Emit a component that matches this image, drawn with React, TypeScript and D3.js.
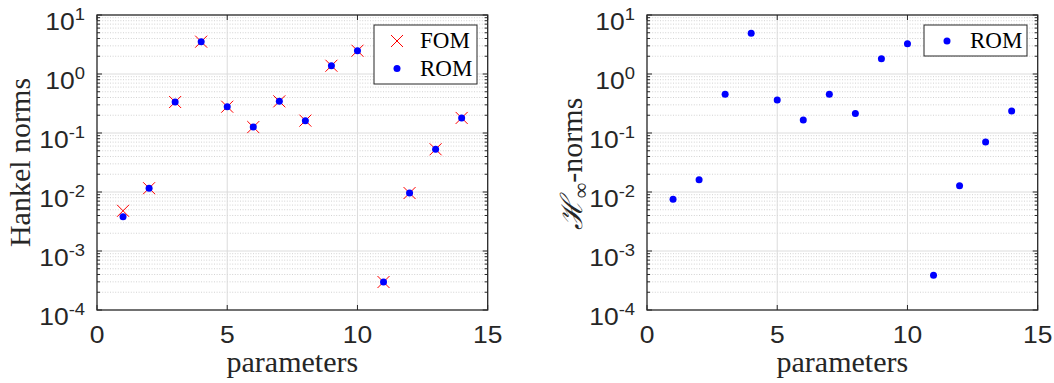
import React from "react";
import * as d3 from "d3";

const params = [1, 2, 3, 4, 5, 6, 7, 8, 9, 10, 11, 12, 13, 14];
const hankelFOM = [0.0048, 0.0116, 0.335, 3.53, 0.279, 0.126, 0.344, 0.162, 1.38, 2.48, 0.000298, 0.0096, 0.053, 0.18];
const hankelROM = [0.0038, 0.0116, 0.335, 3.53, 0.279, 0.126, 0.344, 0.162, 1.38, 2.48, 0.000298, 0.0096, 0.053, 0.18];
const hinfROM = [0.0075, 0.0162, 0.453, 4.89, 0.362, 0.166, 0.453, 0.215, 1.82, 3.26, 0.000387, 0.0128, 0.0703, 0.236];
const xTicks = [0, 5, 10, 15];
const yDecades = [-4, -3, -2, -1, 0, 1];

const AX = "#262626";
const SANS = "'Liberation Sans', Arial, sans-serif";
const SERIF = "'Liberation Serif', 'Times New Roman', serif";
const SX = 1.15;

function Panel({ x0, x1, y0, y1, yLabel, series, legend }) {
  const x = d3.scaleLinear().domain([0, 15]).range([x0, x1]);
  const y = d3.scaleLog().domain([1e-4, 1e1]).range([y1, y0]);
  const minors = [];
  for (let d = -4; d < 1; d++) for (let k = 2; k <= 9; k++) minors.push(k * Math.pow(10, d));
  return (
    <g>
      {minors.map((v, i) => (
        <line key={"mg" + i} x1={x0} x2={x1} y1={y(v)} y2={y(v)} stroke="#d2d2d2" strokeWidth={1} strokeDasharray="1 1.6" />
      ))}
      {yDecades.slice(1, -1).map((d) => (
        <line key={"yg" + d} x1={x0} x2={x1} y1={y(Math.pow(10, d))} y2={y(Math.pow(10, d))} stroke="#dcdcdc" strokeWidth={1} />
      ))}
      {xTicks.slice(1, -1).map((t) => (
        <line key={"xg" + t} x1={x(t)} x2={x(t)} y1={y0} y2={y1} stroke="#dcdcdc" strokeWidth={1} />
      ))}
      {minors.map((v, i) => (
        <g key={"mt" + i}>
          <line x1={x0} x2={x0 + 3} y1={y(v)} y2={y(v)} stroke={AX} strokeWidth={1} />
          <line x1={x1} x2={x1 - 3} y1={y(v)} y2={y(v)} stroke={AX} strokeWidth={1} />
        </g>
      ))}
      {yDecades.map((d) => (
        <g key={"yt" + d}>
          <line x1={x0} x2={x0 + 5} y1={y(Math.pow(10, d))} y2={y(Math.pow(10, d))} stroke={AX} strokeWidth={1} />
          <line x1={x1} x2={x1 - 5} y1={y(Math.pow(10, d))} y2={y(Math.pow(10, d))} stroke={AX} strokeWidth={1} />
          <text transform={`translate(${x0 - 12},${y(Math.pow(10, d)) + 15}) scale(${SX},1)`} textAnchor="end" fontFamily={SANS} fontSize={23} fill={AX}>
            <tspan>10</tspan>
            <tspan dy={-10} fontSize={16}>{String(d)}</tspan>
          </text>
        </g>
      ))}
      {xTicks.map((t) => (
        <g key={"xt" + t}>
          <line x1={x(t)} x2={x(t)} y1={y1} y2={y1 - 5} stroke={AX} strokeWidth={1} />
          <line x1={x(t)} x2={x(t)} y1={y0} y2={y0 + 5} stroke={AX} strokeWidth={1} />
          <text transform={`translate(${x(t)},${y1 + 33}) scale(${SX},1)`} textAnchor="middle" fontFamily={SANS} fontSize={23} fill={AX}>{t}</text>
        </g>
      ))}
      <rect x={x0} y={y0} width={x1 - x0} height={y1 - y0} fill="none" stroke={AX} strokeWidth={1.3} />
      {series.map((s, si) =>
        s.values.map((v, i) =>
          s.type === "x" ? (
            <g key={si + "-" + i} stroke="#ff0000" strokeWidth={1}>
              <line x1={x(params[i]) - 6} x2={x(params[i]) + 6} y1={y(v) - 6} y2={y(v) + 6} />
              <line x1={x(params[i]) - 6} x2={x(params[i]) + 6} y1={y(v) + 6} y2={y(v) - 6} />
            </g>
          ) : (
            <circle key={si + "-" + i} cx={x(params[i])} cy={y(v)} r={3.5} fill="#0000ff" />
          )
        )
      )}
      <text x={(x0 + x1) / 2} y={y1 + 62} textAnchor="middle" fontFamily={SERIF} fontSize={30} fill={AX}>parameters</text>
      {yLabel}
      <g>
        <rect x={legend.x} y={legend.y} width={legend.w} height={legend.h} fill="#ffffff" stroke={AX} strokeWidth={1} />
        {legend.items.map((it, i) => {
          const cy = legend.y + 16 + i * 27.5;
          const mx = legend.x + 23;
          return (
            <g key={"lg" + i}>
              {it.type === "x" ? (
                <g stroke="#ff0000" strokeWidth={1}>
                  <line x1={mx - 6} x2={mx + 6} y1={cy - 6} y2={cy + 6} />
                  <line x1={mx - 6} x2={mx + 6} y1={cy + 6} y2={cy - 6} />
                </g>
              ) : (
                <circle cx={mx} cy={cy} r={3.5} fill="#0000ff" />
              )}
              <text x={legend.x + 46} y={cy + 7} fontFamily={SERIF} fontSize={23} fill="#000">{it.label}</text>
            </g>
          );
        })}
      </g>
    </g>
  );
}

export default function App() {
  return (
    <svg width={1054} height={383} style={{ position: "absolute", left: 0, top: 0, background: "#fff" }}>
      <Panel
        x0={97}
        x1={487.7}
        y0={15}
        y1={310}
        series={[
          { type: "x", values: hankelFOM },
          { type: "o", values: hankelROM },
        ]}
        legend={{ x: 374, y: 25, w: 103, h: 59, items: [{ type: "x", label: "FOM" }, { type: "o", label: "ROM" }] }}
        yLabel={
          <text transform="translate(30,162.5) rotate(-90)" textAnchor="middle" fontFamily={SERIF} fontSize={30} fill={AX}>Hankel norms</text>
        }
      />
      <Panel
        x0={647}
        x1={1037.7}
        y0={15}
        y1={310}
        series={[{ type: "o", values: hinfROM }]}
        legend={{ x: 924, y: 25, w: 103, h: 31, items: [{ type: "o", label: "ROM" }] }}
        yLabel={
          <text transform="translate(582,164) rotate(-90)" textAnchor="middle" fontFamily={SERIF} fontSize={30} fill={AX}>
            <tspan fontFamily="'DejaVu Serif', serif" fontStyle="italic">ℋ</tspan>
            <tspan dy={6} fontSize={22}>∞</tspan>
            <tspan dy={-6}>-norms</tspan>
          </text>
        }
      />
    </svg>
  );
}
